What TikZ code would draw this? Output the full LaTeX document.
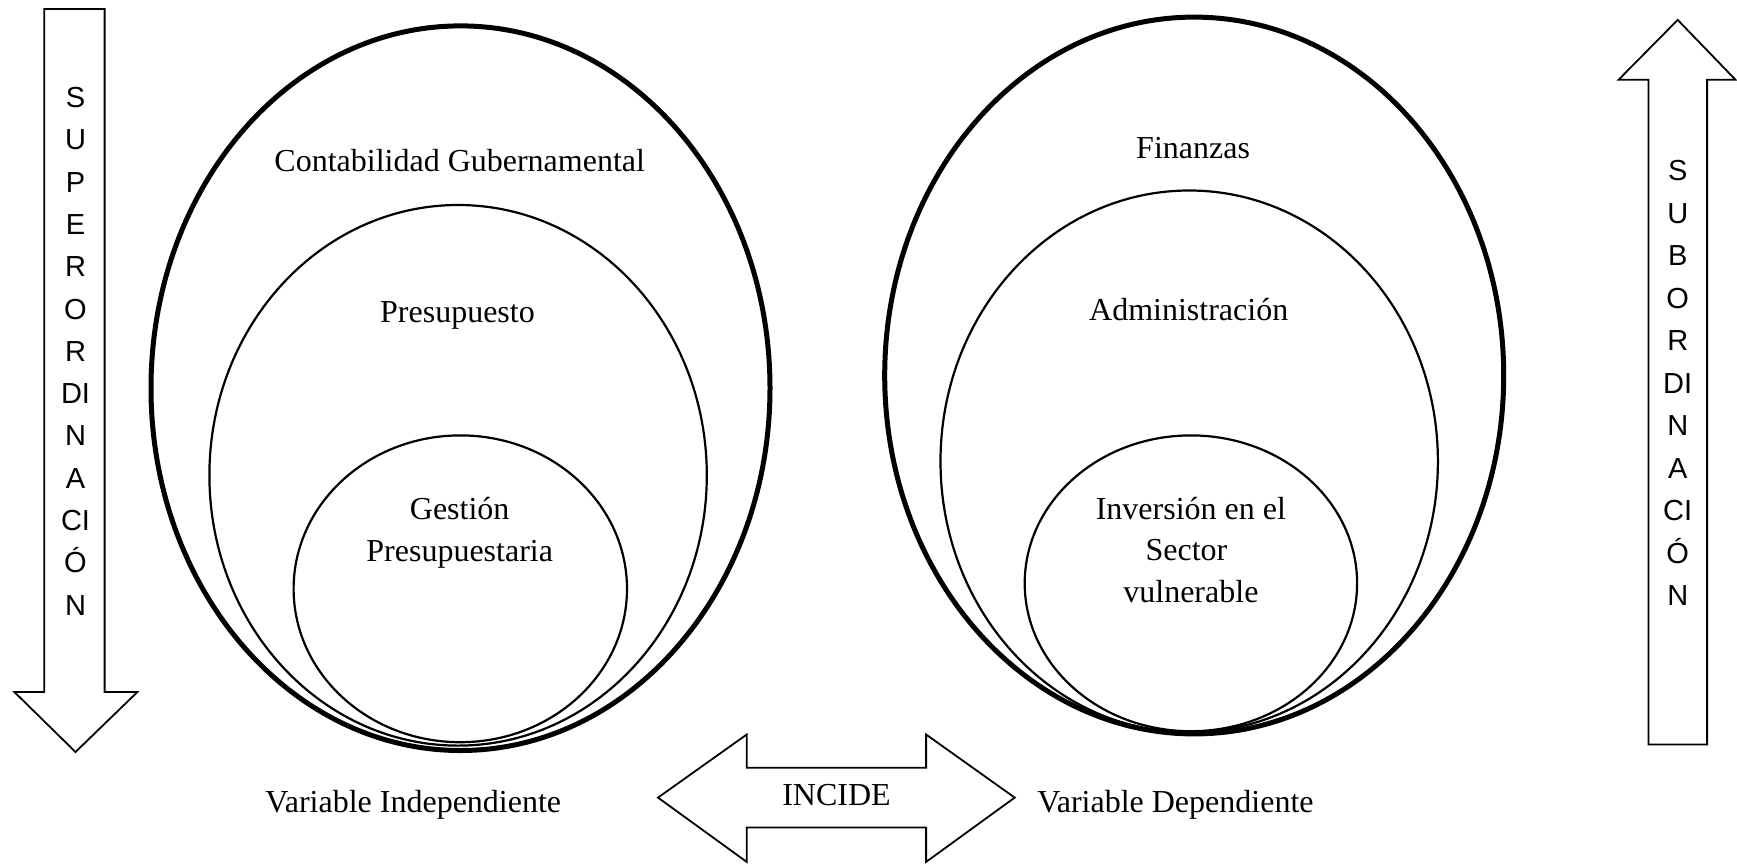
\documentclass[tikz,border=0pt]{standalone}
\usepackage{fontspec}
\setmainfont{Liberation Serif}
\newfontfamily\arialfont{Liberation Sans}
\begin{document}
\begin{tikzpicture}[x=1pt,y=-1pt,
  outerell/.style={line width=5pt},
  innerell/.style={line width=2.2pt},
  blockarrow/.style={line width=1.8pt,line join=miter},
  lbl/.style={font=\fontsize{32}{42}\selectfont,anchor=base,inner sep=0pt},
  vlet/.style={font=\arialfont\fontsize{29}{36}\selectfont,anchor=base,inner sep=0pt}]
\useasboundingbox (0,0) rectangle (1737,865);
% left down arrow
\draw[blockarrow] (44.3,8.9) -- (104.6,8.9) -- (104.6,692) -- (137.4,692) -- (75.5,752) -- (14.4,692) -- (44.3,692) -- cycle;
\foreach \l [count=\i] in {S,U,P,E,R,O,R,DI,N,A,CI,Ó,N}
  \node[vlet] (sup\i) at (75.5,{107.5+42.3*(\i-1)}) {\l};
% right up arrow
\draw[blockarrow] (1648.4,744.4) -- (1707.1,744.4) -- (1707.1,79.8) -- (1735.5,79.8) -- (1677.7,19.9) -- (1618.5,79.8) -- (1648.4,79.8) -- cycle;
\foreach \l [count=\i] in {S,U,B,O,R,DI,N,A,CI,Ó,N}
  \node[vlet] (sub\i) at (1677.7,{180.5+42.5*(\i-1)}) {\l};
% left ellipses
\draw[outerell] (460.5,388.2) ellipse [x radius=309.5pt, y radius=362.3pt];
\draw[innerell] (458.1,475.3) ellipse [x radius=248.7pt, y radius=270.3pt];
\draw[innerell] (460.3,588.8) ellipse [x radius=166.7pt, y radius=153.4pt];
\node[lbl] (cg) at (459.7,171) {Contabilidad Gubernamental};
\node[lbl] (pre) at (457.5,322) {Presupuesto};
\node[lbl] (ges1) at (459.7,519) {Gestión};
\node[lbl] (ges2) at (459.7,561) {Presupuestaria};
% right ellipses
\draw[outerell] (1194.2,375.5) ellipse [x radius=309.5pt, y radius=358.4pt];
\draw[innerell] (1189.2,461.4) ellipse [x radius=248.7pt, y radius=270.9pt];
\draw[innerell] (1190.9,583.3) ellipse [x radius=166.2pt, y radius=147.9pt];
\node[lbl] (fin) at (1193.1,158) {Finanzas};
\node[lbl] (adm) at (1188.7,320) {Administración};
\node[lbl] (inv1) at (1190.9,519) {Inversión en el};
\node[lbl] (inv2) at (1186.5,560) {Sector};
\node[lbl] (inv3) at (1190.9,602) {vulnerable};
% double arrow
\draw[blockarrow] (658,797.6) -- (746.7,734.5) -- (746.7,767.7) -- (926.1,767.7) -- (926.1,734.5) -- (1014.7,797.6) -- (926.1,861.9) -- (926.1,827.5) -- (746.7,827.5) -- (746.7,861.9) -- cycle;
\node[lbl] (inc) at (836.5,805) {INCIDE};
\node[lbl] (vi) at (413.2,812) {Variable Independiente};
\node[lbl] (vd) at (1175.4,812) {Variable Dependiente};
\end{tikzpicture}
\end{document}
